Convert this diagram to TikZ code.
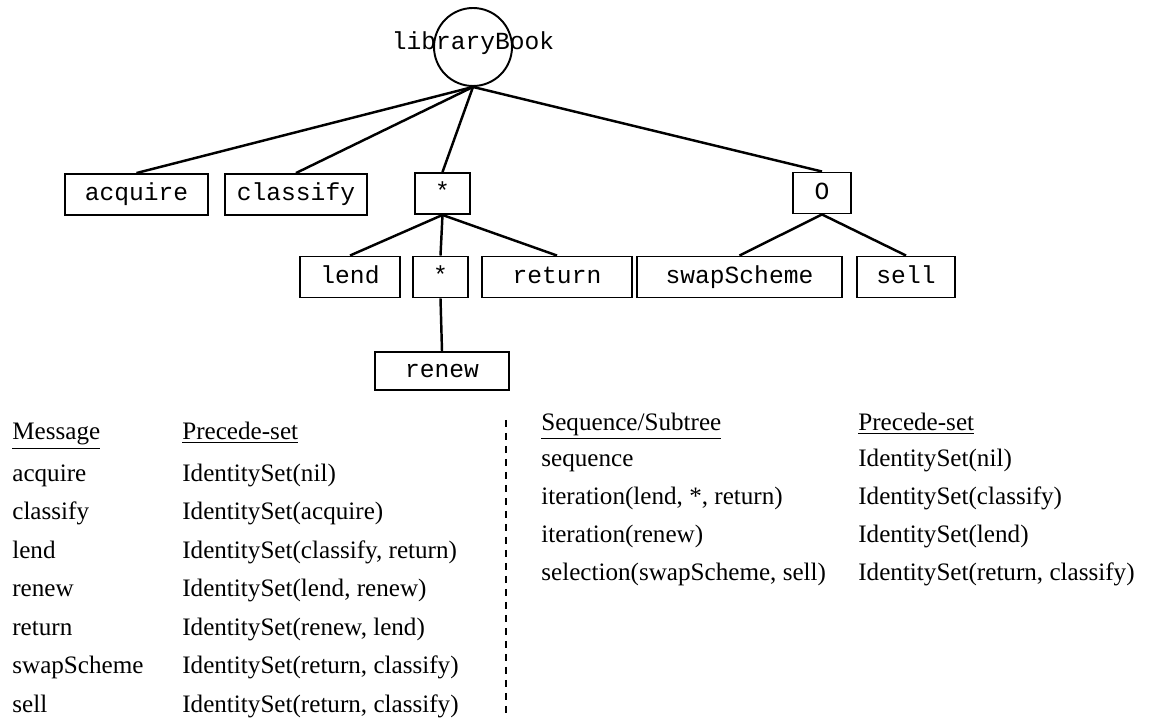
\documentclass[tikz,border=0pt]{standalone}
\usepackage{fontspec}
\setmainfont{Liberation Serif}
\newfontfamily\treefont{Liberation Mono}

\tikzset{
  opbox/.style={draw,line width=1.1pt,inner sep=0pt,minimum height=0.82cm,text height=2ex,text depth=0.4ex,font=\treefont\fontsize{14}{16}\selectfont},
  link/.style={line width=1.4pt},
  cell/.style={anchor=base west,inner sep=0pt,font=\fontsize{14.3}{17}\selectfont}
}

\begin{document}
\begin{tikzpicture}[x=0.02cm,y=-0.02cm]
\path[use as bounding box] (0,0) rectangle (1154,719);
% tree
\node[circle,draw,line width=1.1pt,minimum size=1.56cm,inner sep=0pt] (root) at (473,47) {};
\node[font=\treefont\fontsize{14}{16}\selectfont,inner sep=0pt] (rootname) at (473,43) {libraryBook};
\node[opbox,minimum width=2.86cm] (acquire) at (136.5,194.5) {acquire};
\node[opbox,minimum width=2.84cm] (classify) at (296,194.5) {classify};
\node[opbox,minimum width=1.10cm] (iterA) at (442.5,193.5) {*};
\node[opbox,minimum width=1.16cm] (select) at (822,193) {O};
\node[opbox,minimum width=2.00cm] (lend) at (350,277) {lend};
\node[opbox,minimum width=1.10cm] (iterB) at (440.5,277) {*};
\node[opbox,minimum width=3.00cm] (return) at (557,277) {return};
\node[opbox,minimum width=4.10cm] (swap) at (739.5,277) {swapScheme};
\node[opbox,minimum width=1.96cm] (sell) at (906,277) {sell};
\node[opbox,minimum width=2.68cm,minimum height=0.76cm] (renew) at (442,371) {renew};
\draw[link] (root.south) -- (acquire.north);
\draw[link] (root.south) -- (classify.north);
\draw[link] (root.south) -- (iterA.north);
\draw[link] (root.south) -- (select.north);
\draw[link] (iterA.south) -- (lend.north);
\draw[link] (iterA.south) -- (iterB.north);
\draw[link] (iterA.south) -- (return.north);
\draw[link] (select.south) -- (swap.north);
\draw[link] (select.south) -- (sell.north);
\draw[link] (iterB.south) -- (renew.north);
% message table
\node[cell] (msghead) at (12,440) {\underline{Message}};
\node[cell] (msgsethead) at (182,440) {\underline{Precede-set}};
\node[cell] (msg1) at (12,482) {acquire};
\node[cell] (msgset1) at (182,482) {IdentitySet(nil)};
\node[cell] (msg2) at (12,520) {classify};
\node[cell] (msgset2) at (182,520) {IdentitySet(acquire)};
\node[cell] (msg3) at (12,559) {lend};
\node[cell] (msgset3) at (182,559) {IdentitySet(classify, return)};
\node[cell] (msg4) at (12,597) {renew};
\node[cell] (msgset4) at (182,597) {IdentitySet(lend, renew)};
\node[cell] (msg5) at (12,636) {return};
\node[cell] (msgset5) at (182,636) {IdentitySet(renew, lend)};
\node[cell] (msg6) at (12,674) {swapScheme};
\node[cell] (msgset6) at (182,674) {IdentitySet(return, classify)};
\node[cell] (msg7) at (12,713) {sell};
\node[cell] (msgset7) at (182,713) {IdentitySet(return, classify)};
% separator
\draw[line width=1.1pt,dash pattern=on 0.14cm off 0.12cm] (506,420) -- (506,719);
% subtree table
\node[cell] (subhead) at (541,431) {\underline{Sequence/Subtree}};
\node[cell] (subsethead) at (858,431) {\underline{Precede-set}};
\node[cell] (sub1) at (541,467) {sequence};
\node[cell] (subset1) at (858,467) {IdentitySet(nil)};
\node[cell] (sub2) at (541,505) {iteration(lend, *, return)};
\node[cell] (subset2) at (858,505) {IdentitySet(classify)};
\node[cell] (sub3) at (541,543) {iteration(renew)};
\node[cell] (subset3) at (858,543) {IdentitySet(lend)};
\node[cell] (sub4) at (541,581) {selection(swapScheme, sell)};
\node[cell] (subset4) at (858,581) {IdentitySet(return, classify)};
\end{tikzpicture}
\end{document}
